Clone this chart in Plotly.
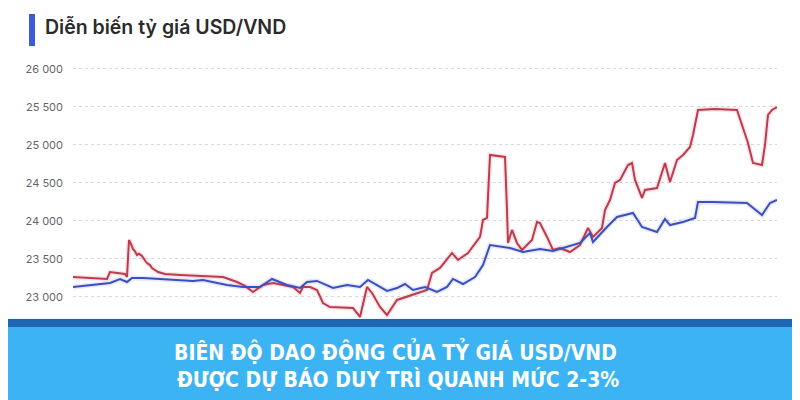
import plotly.graph_objects as go

# time index (sample position along the period) and rates in VND per USD
red_t = [0, 17, 34, 37, 47, 52, 54, 56, 58, 60, 62, 64, 66, 69, 72, 74, 77, 79, 85, 92, 107, 130, 150,
         164, 172, 180, 190, 200, 220, 227, 230, 237, 244, 250, 257, 280, 287, 294, 299, 307, 314,
         324, 340, 354, 359, 367, 379, 385, 395, 407, 410, 414, 417, 432, 434, 435, 439, 444, 449,
         459, 464, 467, 474, 480, 487, 497, 507, 515, 520, 529, 532, 537, 542, 547, 555, 559, 562,
         569, 572, 584, 592, 597, 604, 610, 617, 620, 625, 642, 664, 669, 675, 680, 689, 692, 695,
         699, 704]
red_v = [23263, 23250, 23237, 23329, 23316, 23303, 23263, 23750, 23700, 23632, 23600, 23553, 23570,
         23540, 23480, 23447, 23420, 23382, 23329, 23303, 23290, 23276, 23263, 23197, 23145, 23066,
         23158, 23184, 23132, 23053, 23132, 23132, 23092, 22921, 22868, 22855, 22737, 23132, 23053,
         22868, 22763, 22961, 23026, 23092, 23316, 23382, 23579, 23487, 23579, 23790, 24013, 24040,
         24869, 24842, 24145, 23711, 23882, 23711, 23619, 23750, 23987, 23974, 23790, 23619, 23645,
         23592, 23684, 23908, 23790, 23908, 24145, 24276, 24500, 24540, 24737, 24763, 24540, 24303,
         24408, 24434, 24763, 24513, 24803, 24869, 24974, 25132, 25461, 25474, 25461, 25263, 25026,
         24763, 24737, 25000, 25395, 25461, 25500]

blue_t = [0, 20, 37, 47, 54, 59, 70, 87, 120, 130, 154, 170, 187, 199, 214, 227, 234, 244, 260,
          274, 287, 295, 304, 314, 324, 332, 340, 352, 364, 374, 380, 390, 402, 410, 417, 437, 450,
          467, 480, 494, 507, 517, 520, 534, 544, 560, 569, 584, 592, 597, 610, 622, 625, 640, 674,
          689, 697, 704]
blue_v = [23132, 23158, 23184, 23237, 23197, 23250, 23250, 23237, 23211, 23224, 23158, 23132, 23132,
          23237, 23158, 23118, 23197, 23211, 23118, 23158, 23132, 23224, 23158, 23079, 23118, 23171,
          23092, 23132, 23066, 23132, 23237, 23171, 23263, 23421, 23684, 23645, 23592, 23632, 23605,
          23658, 23711, 23842, 23724, 23921, 24053, 24105, 23921, 23855, 24026, 23947, 23987, 24040,
          24250, 24250, 24237, 24079, 24237, 24276]

tick_vals = [23000, 23500, 24000, 24500, 25000, 25500, 26000]
tick_text = ["23 000", "23 500", "24 000", "24 500", "25 000", "25 500", "26 000"]

title_text = "Diễn biến tỷ giá USD/VND"
banner_line1 = "BIÊN ĐỘ DAO ĐỘNG CỦA TỶ GIÁ USD/VND"
banner_line2 = "ĐƯỢC DỰ BÁO DUY TRÌ QUANH MỨC 2-3%"

RED = "#bf3a4c"
BLUE = "#3b4fc0"

fig = go.Figure()
for t, v, c in [(red_t, red_v, RED), (blue_t, blue_v, BLUE)]:
    fig.add_trace(go.Scatter(x=t, y=v, mode="lines", line=dict(color=c, width=5),
                             opacity=0.12, hoverinfo="skip", showlegend=False))
for t, v, c in [(red_t, red_v, RED), (blue_t, blue_v, BLUE)]:
    fig.add_trace(go.Scatter(x=t, y=v, mode="lines", line=dict(color=c, width=2),
                             showlegend=False))

W, H = 800, 400
OFF = 8  # page offset of the figure inside the browser window
ML, MR, MT, MB = 65, 31, 54, 80

def px_x(p):
    return (p - OFF - ML) / (W - ML - MR)

def px_y(p):
    return 1 - (p - OFF - MT) / (H - MT - MB)

shapes = [
    dict(type="rect", xref="paper", yref="paper", x0=px_x(29), x1=px_x(35), y0=px_y(46), y1=px_y(14),
         fillcolor="#3d5bd9", line=dict(width=0), layer="above"),
    dict(type="rect", xref="paper", yref="paper", x0=px_x(0), x1=px_x(820), y0=px_y(319), y1=px_y(318),
         fillcolor="#e8f2fb", line=dict(width=0), layer="above"),
    dict(type="rect", xref="paper", yref="paper", x0=px_x(0), x1=px_x(820), y0=px_y(327), y1=px_y(319),
         fillcolor="#1f67b2", line=dict(width=0), layer="above"),
    dict(type="rect", xref="paper", yref="paper", x0=px_x(0), x1=px_x(820), y0=px_y(420), y1=px_y(327),
         fillcolor="#3cb4f4", line=dict(width=0), layer="above"),
]

banner_font = dict(family="Liberation Sans Narrow, DejaVu Sans Condensed, Roboto, sans-serif",
                   size=21, color="white", weight=700)
annotations = [
    dict(text=title_text, xref="paper", yref="paper", x=px_x(43), y=px_y(27), xanchor="left",
         yanchor="middle", showarrow=False,
         font=dict(family="Inter, Roboto, sans-serif", size=19.5, color="#2b2b2b", weight=600)),
    dict(text=banner_line1, xref="paper", yref="paper", x=px_x(395), y=px_y(351), xanchor="center",
         yanchor="middle", showarrow=False, font=banner_font),
    dict(text=banner_line2, xref="paper", yref="paper", x=px_x(398), y=px_y(379), xanchor="center",
         yanchor="middle", showarrow=False, font=banner_font),
]

fig.update_layout(
    width=W, height=H, autosize=False,
    margin=dict(l=ML, r=MR, t=MT, b=MB, pad=0),
    paper_bgcolor="white", plot_bgcolor="white",
    shapes=shapes, annotations=annotations,
    xaxis=dict(range=[0, 704], showgrid=False, zeroline=False, showticklabels=False, showline=False,
               fixedrange=True),
    yaxis=dict(range=[22592, 26092], tickvals=tick_vals, ticktext=tick_text, showgrid=True,
               gridcolor="#d9d9d9", griddash="dot", gridwidth=1, zeroline=False, showline=False,
               ticks="", ticklabelstandoff=9,
               tickfont=dict(family="Inter, Roboto, sans-serif", size=11, color="#666666")),
)

fig.write_html("out.html")
